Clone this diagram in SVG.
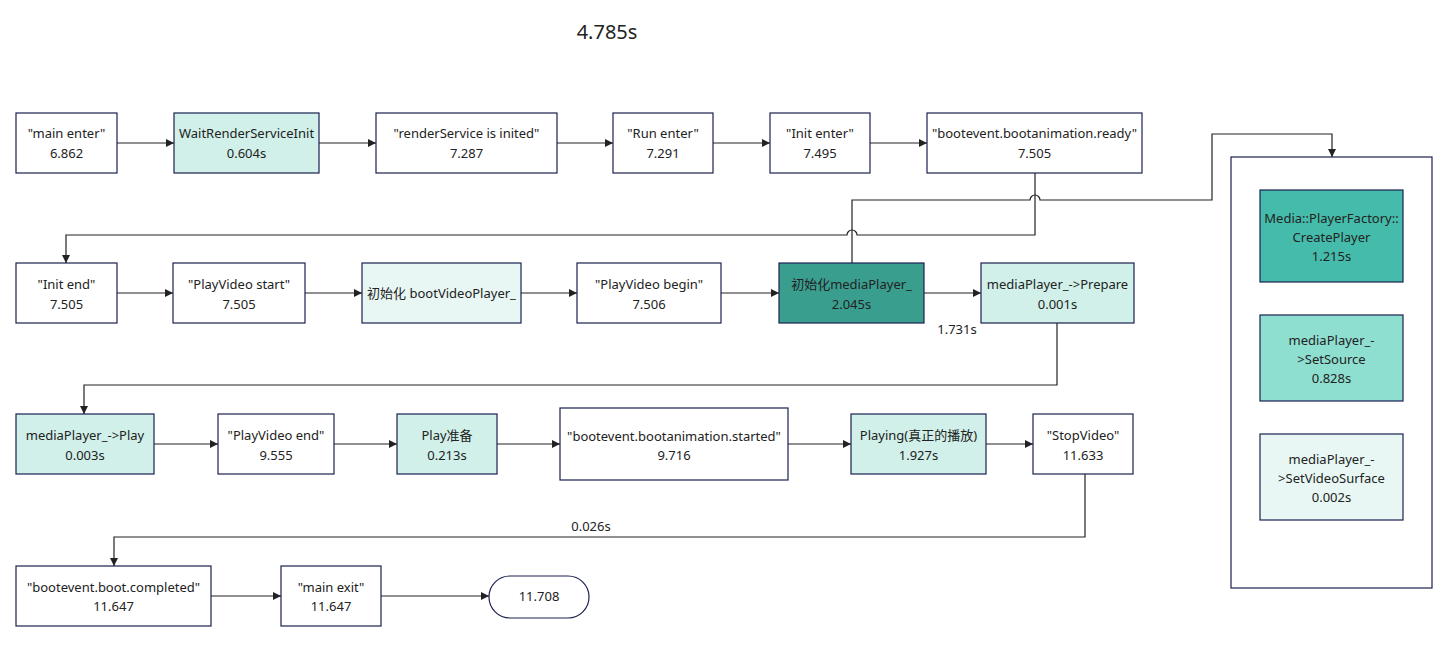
<svg xmlns="http://www.w3.org/2000/svg" width="1456" height="648" viewBox="0 0 1456 648">
<style>
.n{stroke:#1c2150;stroke-width:1.2}
.w{fill:#ffffff}
.t1{fill:#d0f0e9}
.t0{fill:#e8f7f4}
.t3{fill:#3a9e8f}
.tc{fill:#45bcab}
.ts{fill:#8fdfd1}
text{font-family:"Noto Sans","Noto Sans CJK SC",sans-serif;font-size:13px;fill:#222;text-anchor:middle}
.c{fill:none;stroke:#222;stroke-width:1.2}
.title{font-size:20px}
</style>
<defs>
<marker id="a" viewBox="0 0 10 10" refX="10" refY="5" markerWidth="8" markerHeight="8" markerUnits="userSpaceOnUse" orient="auto">
<path d="M0,0 L10,5 L0,10 z" fill="#222"/>
</marker>
</defs>
<rect width="1456" height="648" fill="#ffffff"/>
<text class="title" x="607" y="39">4.785s</text>

<g id="connectors">
<path class="c" d="M117,143 H174" marker-end="url(#a)"/>
<path class="c" d="M319,143 H376" marker-end="url(#a)"/>
<path class="c" d="M557,143 H613" marker-end="url(#a)"/>
<path class="c" d="M713,143 H770" marker-end="url(#a)"/>
<path class="c" d="M870,143 H927" marker-end="url(#a)"/>
<path class="c" d="M1035,173 V235 H857 A5,5 0 0 0 847,235 H66 V263" marker-end="url(#a)"/>
<path class="c" d="M852,263 V200 H1030 A5,5 0 0 1 1040,200 H1212 V134 H1332 V157" marker-end="url(#a)"/>
<path class="c" d="M117,293 H173" marker-end="url(#a)"/>
<path class="c" d="M305,293 H362" marker-end="url(#a)"/>
<path class="c" d="M521,293 H577" marker-end="url(#a)"/>
<path class="c" d="M721,293 H779" marker-end="url(#a)"/>
<path class="c" d="M924,293 H981" marker-end="url(#a)"/>
<path class="c" d="M1057,323 V385 H84 V414" marker-end="url(#a)"/>
<path class="c" d="M154,444 H218" marker-end="url(#a)"/>
<path class="c" d="M334,444 H397" marker-end="url(#a)"/>
<path class="c" d="M497,444 H560" marker-end="url(#a)"/>
<path class="c" d="M788,444 H851" marker-end="url(#a)"/>
<path class="c" d="M986,444 H1033" marker-end="url(#a)"/>
<path class="c" d="M1085,474 V537 H114 V566" marker-end="url(#a)"/>
<path class="c" d="M211,596 H281" marker-end="url(#a)"/>
<path class="c" d="M381,596 H489" marker-end="url(#a)"/>
<text x="957" y="334">1.731s</text>
<text x="591" y="531">0.026s</text>
</g>

<g id="main_enter"><rect class="n w" x="16" y="113" width="101" height="60"/><text x="66.5" y="138">"main enter"</text><text x="66.5" y="158">6.862</text></g>
<g id="wait_render"><rect class="n t1" x="174" y="113" width="145" height="60"/><text x="246.5" y="138">WaitRenderServiceInit</text><text x="246.5" y="158">0.604s</text></g>
<g id="render_inited"><rect class="n w" x="376" y="113" width="181" height="60"/><text x="466.5" y="138">"renderService is inited"</text><text x="466.5" y="158">7.287</text></g>
<g id="run_enter"><rect class="n w" x="613" y="113" width="100" height="60"/><text x="663" y="138">"Run enter"</text><text x="663" y="158">7.291</text></g>
<g id="init_enter"><rect class="n w" x="770" y="113" width="100" height="60"/><text x="820" y="138">"Init enter"</text><text x="820" y="158">7.495</text></g>
<g id="anim_ready"><rect class="n w" x="927" y="113" width="215" height="60"/><text x="1034.5" y="138">"bootevent.bootanimation.ready"</text><text x="1034.5" y="158">7.505</text></g>

<g id="init_end"><rect class="n w" x="16" y="263" width="101" height="60"/><text x="66.5" y="289">"Init end"</text><text x="66.5" y="309">7.505</text></g>
<g id="play_start"><rect class="n w" x="173" y="263" width="132" height="60"/><text x="239" y="289">"PlayVideo start"</text><text x="239" y="309">7.505</text></g>
<g id="init_boot_player"><rect class="n t0" x="362" y="263" width="159" height="60"/><text x="441.5" y="298">初始化 bootVideoPlayer_</text></g>
<g id="play_begin"><rect class="n w" x="577" y="263" width="144" height="60"/><text x="649" y="289">"PlayVideo begin"</text><text x="649" y="309">7.506</text></g>
<g id="init_media_player"><rect class="n t3" x="779" y="263" width="145" height="60"/><text x="851.5" y="289">初始化mediaPlayer_</text><text x="851.5" y="309">2.045s</text></g>
<g id="prepare"><rect class="n t1" x="981" y="263" width="153" height="60"/><text x="1057.5" y="289">mediaPlayer_-&gt;Prepare</text><text x="1057.5" y="309">0.001s</text></g>

<g id="play"><rect class="n t1" x="16" y="414" width="138" height="60"/><text x="85" y="440">mediaPlayer_-&gt;Play</text><text x="85" y="460">0.003s</text></g>
<g id="play_end"><rect class="n w" x="218" y="414" width="116" height="60"/><text x="276" y="440">"PlayVideo end"</text><text x="276" y="460">9.555</text></g>
<g id="play_prepare"><rect class="n t1" x="397" y="414" width="100" height="60"/><text x="447" y="440">Play准备</text><text x="447" y="460">0.213s</text></g>
<g id="anim_started"><rect class="n w" x="560" y="408" width="228" height="72"/><text x="674" y="441">"bootevent.bootanimation.started"</text><text x="674" y="460">9.716</text></g>
<g id="playing"><rect class="n t1" x="851" y="414" width="135" height="60"/><text x="918.5" y="440">Playing(真正的播放)</text><text x="918.5" y="460">1.927s</text></g>
<g id="stop_video"><rect class="n w" x="1033" y="414" width="100" height="60"/><text x="1083" y="440">"StopVideo"</text><text x="1083" y="460">11.633</text></g>

<g id="boot_completed"><rect class="n w" x="16" y="566" width="195" height="60"/><text x="113.5" y="592">"bootevent.boot.completed"</text><text x="113.5" y="611">11.647</text></g>
<g id="main_exit"><rect class="n w" x="281" y="566" width="100" height="60"/><text x="331" y="592">"main exit"</text><text x="331" y="611">11.647</text></g>
<g id="end"><rect class="n w" x="489" y="576" width="100" height="42" rx="21" ry="21"/><text x="539" y="601">11.708</text></g>

<g id="media_container"><rect class="n w" x="1231" y="157" width="201" height="431"/></g>
<g id="create_player"><rect class="n tc" x="1260" y="190" width="143" height="92"/><text x="1331.5" y="223">Media::PlayerFactory::</text><text x="1331.5" y="242">CreatePlayer</text><text x="1331.5" y="261">1.215s</text></g>
<g id="set_source"><rect class="n ts" x="1260" y="315" width="143" height="86"/><text x="1331.5" y="345">mediaPlayer_-</text><text x="1331.5" y="364">&gt;SetSource</text><text x="1331.5" y="383">0.828s</text></g>
<g id="set_surface"><rect class="n t0" x="1260" y="434" width="143" height="86"/><text x="1331.5" y="464">mediaPlayer_-</text><text x="1331.5" y="483">&gt;SetVideoSurface</text><text x="1331.5" y="502">0.002s</text></g>
</svg>
